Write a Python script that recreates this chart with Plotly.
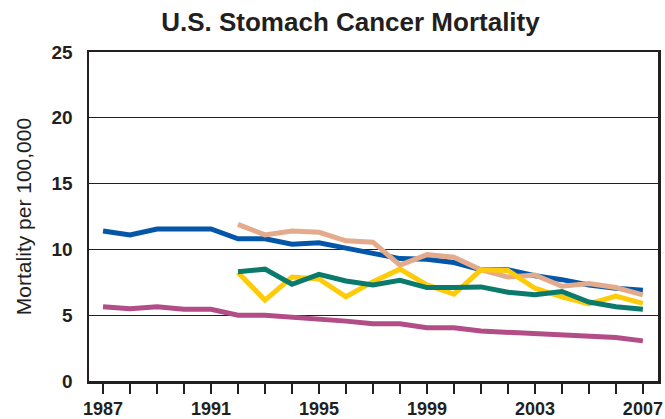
import plotly.graph_objects as go

years_all = list(range(1987, 2008))
years_late = list(range(1992, 2008))

blue_vals = [11.4, 11.1, 11.55, 11.55, 11.55, 10.8, 10.8, 10.4, 10.5, 10.1, 9.7,
             9.3, 9.25, 9.0, 8.45, 8.45, 8.0, 7.7, 7.3, 7.05, 6.9]
peach_vals = [11.9, 11.1, 11.4, 11.3, 10.65, 10.55, 8.8, 9.6, 9.4, 8.45, 7.9,
              8.05, 7.2, 7.4, 7.1, 6.55]
yellow_vals = [8.25, 6.15, 7.9, 7.75, 6.4, 7.55, 8.5, 7.3, 6.6, 8.45, 8.4,
               7.05, 6.4, 5.85, 6.45, 5.9]
teal_vals = [8.3, 8.5, 7.35, 8.1, 7.6, 7.3, 7.65, 7.1, 7.1, 7.15, 6.75,
             6.55, 6.8, 6.0, 5.65, 5.45]
magenta_vals = [5.65, 5.5, 5.65, 5.45, 5.45, 5.0, 5.0, 4.85, 4.75, 4.55, 4.35,
                4.35, 4.05, 4.05, 3.8, 3.7, 3.6, 3.5, 3.35, 3.3, 3.05]

x_labels = {1987: "1987", 1991: "1991", 1995: "1995", 1999: "1999", 2003: "2003", 2007: "2007"}
y_ticks = [0, 5, 10, 15, 20, 25]

series = [
    (years_all, blue_vals, "#0457A8"),
    (years_late, peach_vals, "#E4AA8C"),
    (years_late, yellow_vals, "#FDCB0A"),
    (years_late, teal_vals, "#0A7A6C"),
    (years_all, magenta_vals, "#B24D87"),
]

fig = go.Figure()
for xs, ys, c in series:
    fig.add_trace(go.Scatter(x=xs, y=ys, mode="lines",
                             line=dict(color=c, width=5), showlegend=False,
                             hoverinfo="skip"))

fig.update_layout(
    width=665, height=419,
    margin=dict(l=89, r=7, t=52, b=38),
    paper_bgcolor="white", plot_bgcolor="white",
    title=dict(text="<b>U.S. Stomach Cancer Mortality</b>",
               font=dict(family="Liberation Sans, Arial", size=26, color="#231f20"),
               x=0.527, xanchor="center", y=0.948, yanchor="middle"),
    font=dict(family="Liberation Sans, Arial", color="#231f20"),
)
fig.update_xaxes(
    range=[1986.48, 2007.56],
    tickvals=years_all,
    ticktext=["<b>%s</b>" % x_labels[y] if y in x_labels else "" for y in years_all],
    ticks="outside", ticklen=10, tickwidth=1.5, tickcolor="#231f20",
    tickfont=dict(size=18, color="#231f20"),
    ticklabeloverflow="allow",
    showline=True, linewidth=2.5, linecolor="#231f20", mirror=True,
    showgrid=False, zeroline=False, automargin=False,
)
fig.update_yaxes(
    range=[0, 25],
    tickvals=y_ticks,
    ticktext=["<b>%d</b>" % v for v in y_ticks],
    ticks="", ticklabelstandoff=10,
    tickfont=dict(size=19, color="#231f20"),
    showline=True, linewidth=2.5, linecolor="#231f20", mirror=True,
    showgrid=True, gridcolor="#231f20", gridwidth=1, zeroline=False,
    automargin=False,
    title=dict(text="Mortality per 100,000", font=dict(size=21, color="#231f20"), standoff=14),
)

fig.write_html("out.html",
               config={"displayModeBar": False, "staticPlot": True},
               post_script="document.body.style.margin='0';document.body.style.overflow='hidden';")
